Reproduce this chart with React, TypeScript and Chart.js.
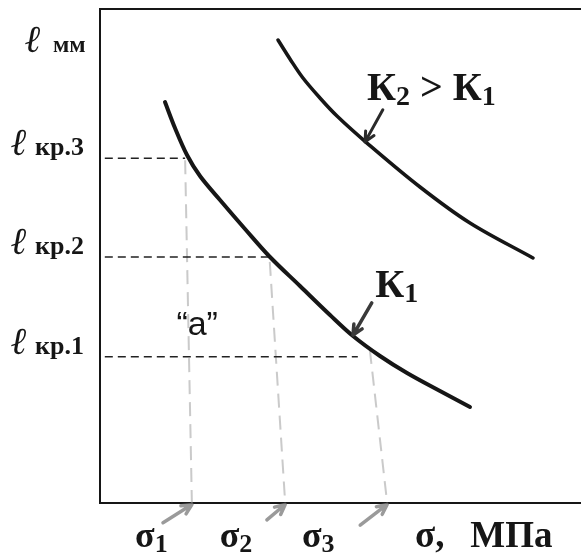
import React, { useEffect, useRef } from 'react';
import { Chart, registerables } from 'chart.js';

Chart.register(...registerables);

// Stress σ and crack length ℓ in relative units (0..10 on both axes).
const K1_SIGMA = [1.351, 1.559, 1.809, 2.079, 2.495, 3.015, 3.534, 4.158, 4.782, 5.26, 5.821, 6.383, 7.069, 7.692];
const K1_LENGTH = [8.117, 7.591, 7.045, 6.619, 6.134, 5.547, 4.98, 4.393, 3.806, 3.381, 2.976, 2.632, 2.267, 1.943];
const K2_SIGMA = [3.701, 3.95, 4.22, 4.574, 4.927, 5.551, 6.653, 7.692, 9.002];
const K2_LENGTH = [9.372, 8.988, 8.603, 8.198, 7.834, 7.287, 6.397, 5.668, 4.96];

// Critical crack lengths ℓкр.1..3 and where their dashed guides meet the K1 curve
const CRIT_LABELS = ['кр.1', 'кр.2', 'кр.3'];
const CRIT_LENGTH = [2.96, 4.98, 6.98];
const CRIT_DASH_END = [5.36, 3.58, 1.77];

// Failure stresses σ1..σ3: projection from the curve down to the σ axis
const SIGMA_SUBS = ['1', '2', '3'];
const SIGMA_AXIS = [1.91, 3.85, 5.97];
const SIGMA_PROJ_TOP_X = [1.77, 3.53, 5.61];
const SIGMA_PROJ_TOP_Y = [6.94, 4.88, 3.1];
const SIGMA_LABEL_X = [0.73, 2.49, 4.2];
const SIGMA_ARROW_TAIL_X = [1.31, 3.47, 5.41];
const SIGMA_ARROW_TAIL_Y = [-0.4, -0.34, -0.45];

const SERIF = '"Liberation Serif", "Times New Roman", serif';
const SANS = '"Liberation Sans", Arial, sans-serif';
const INK = '#161616';

const pts = (xs: number[], ys: number[]) => xs.map((x, i) => ({ x, y: ys[i] }));

function drawArrow(ctx: CanvasRenderingContext2D, x1: number, y1: number, x2: number, y2: number, color: string, width: number, head: number) {
  const a = Math.atan2(y2 - y1, x2 - x1);
  ctx.save();
  ctx.strokeStyle = color;
  ctx.lineWidth = width;
  ctx.lineCap = 'round';
  ctx.lineJoin = 'round';
  ctx.beginPath();
  ctx.moveTo(x1, y1);
  ctx.lineTo(x2, y2);
  ctx.moveTo(x2 - head * Math.cos(a - 0.45), y2 - head * Math.sin(a - 0.45));
  ctx.lineTo(x2, y2);
  ctx.lineTo(x2 - head * Math.cos(a + 0.45), y2 - head * Math.sin(a + 0.45));
  ctx.stroke();
  ctx.restore();
}

// Draws "main" followed by a lowered subscript, returns the x after it
function drawSub(ctx: CanvasRenderingContext2D, x: number, y: number, main: string, sub: string, size: number, subSize: number, drop: number) {
  ctx.font = `bold ${size}px ${SERIF}`;
  ctx.fillText(main, x, y);
  const w = ctx.measureText(main).width;
  ctx.font = `bold ${subSize}px ${SERIF}`;
  ctx.fillText(sub, x + w, y + drop);
  return x + w + ctx.measureText(sub).width;
}

const diagramPlugin = {
  id: 'diagram',
  beforeDatasetsDraw(chart: any) {
    const { ctx, chartArea: a } = chart;
    ctx.save();
    ctx.strokeStyle = INK;
    ctx.lineWidth = 2;
    ctx.beginPath();
    ctx.moveTo(a.right + 2, a.top);
    ctx.lineTo(a.left, a.top);
    ctx.lineTo(a.left, a.bottom);
    ctx.lineTo(a.right + 2, a.bottom);
    ctx.stroke();
    ctx.restore();
  },
  afterDraw(chart: any) {
    const { ctx, chartArea: a } = chart;
    const xs = chart.scales.x;
    const ys = chart.scales.y;
    const px = (v: number) => xs.getPixelForValue(v);
    const py = (v: number) => ys.getPixelForValue(v);
    ctx.save();
    ctx.fillStyle = INK;
    ctx.textBaseline = 'alphabetic';
    ctx.textAlign = 'left';

    // ℓ axis title and critical lengths
    const ell = `italic bold 38px ${SERIF}`;
    ctx.font = ell;
    ctx.fillText('ℓ', a.left - 75, py(9.13));
    ctx.font = `bold 24px ${SERIF}`;
    ctx.fillText('мм', a.left - 47, py(9.13));
    CRIT_LABELS.forEach((t, i) => {
      const y = py(CRIT_LENGTH[i]) - 3;
      ctx.font = ell;
      ctx.fillText('ℓ', a.left - 89, y);
      ctx.font = `bold 26px ${SERIF}`;
      ctx.fillText(t, a.left - 65, y);
    });

    // σ labels under the axis
    SIGMA_SUBS.forEach((s, i) => {
      drawSub(ctx, px(SIGMA_LABEL_X[i]), 547, 'σ', s, 36, 26, 5);
    });
    ctx.font = `bold 37px ${SERIF}`;
    ctx.fillText('σ,', px(6.55), 547);
    ctx.fillText('МПа', px(7.7), 547);

    // curve labels
    let x = drawSub(ctx, px(5.55), py(8.16), 'К', '2', 40, 28, 5);
    ctx.font = `bold 40px ${SERIF}`;
    ctx.fillText(' > ', x, py(8.16));
    x += ctx.measureText(' > ').width;
    drawSub(ctx, x, py(8.16), 'К', '1', 40, 28, 5);
    drawSub(ctx, px(5.72), py(4.17), 'К', '1', 40, 28, 5);

    // region label
    ctx.font = `34px ${SANS}`;
    ctx.textAlign = 'center';
    ctx.fillText('“a”', px(2.02), py(3.4));

    // pointers to the curves
    drawArrow(ctx, px(5.88), py(7.96), px(5.51), py(7.31), '#2a2a2a', 3, 11);
    drawArrow(ctx, px(5.65), py(4.05), px(5.26), py(3.4), '#3a3a3a', 3.5, 11);

    // gray arrows to the failure stresses
    SIGMA_AXIS.forEach((s, i) => {
      drawArrow(ctx, px(SIGMA_ARROW_TAIL_X[i]), py(SIGMA_ARROW_TAIL_Y[i]), px(s), py(-0.03), 'rgba(120,120,120,0.75)', 3.5, 11);
    });
    ctx.restore();
  },
};

export default function App() {
  const ref = useRef<HTMLCanvasElement | null>(null);
  useEffect(() => {
    document.body.style.margin = '0';
    const canvas = ref.current!;
    const datasets: any[] = [
      {
        data: pts(K1_SIGMA, K1_LENGTH),
        borderColor: INK,
        borderWidth: 4,
        tension: 0.35,
        borderCapStyle: 'round',
      },
      {
        data: pts(K2_SIGMA, K2_LENGTH),
        borderColor: INK,
        borderWidth: 3.6,
        tension: 0.35,
        borderCapStyle: 'round',
      },
    ];
    CRIT_LENGTH.forEach((l, i) => {
      datasets.push({
        data: [{ x: 0.1, y: l }, { x: CRIT_DASH_END[i], y: l }],
        borderColor: '#222',
        borderWidth: 1.6,
        borderDash: [8, 5],
      });
    });
    SIGMA_AXIS.forEach((s, i) => {
      datasets.push({
        data: [{ x: SIGMA_PROJ_TOP_X[i], y: SIGMA_PROJ_TOP_Y[i] }, { x: s, y: 0 }],
        borderColor: 'rgba(150,150,150,0.5)',
        borderWidth: 2,
        borderDash: [14, 8],
      });
    });
    const chart = new Chart(canvas, {
      type: 'line',
      data: { datasets },
      options: {
        responsive: false,
        animation: false,
        parsing: false,
        layout: { padding: { left: 100, top: 9, right: 0, bottom: 51 } },
        elements: { point: { radius: 0 } },
        scales: {
          x: { type: 'linear', min: 0, max: 10, display: false },
          y: { type: 'linear', min: 0, max: 10, display: false },
        },
        plugins: { legend: { display: false }, tooltip: { enabled: false } },
      },
      plugins: [diagramPlugin],
    });
    return () => chart.destroy();
  }, []);
  return (
    <div style={{ position: 'fixed', left: 0, top: 0, width: 581, height: 554, background: '#fff' }}>
      <canvas ref={ref} width={581} height={554} style={{ display: 'block' }} />
    </div>
  );
}
